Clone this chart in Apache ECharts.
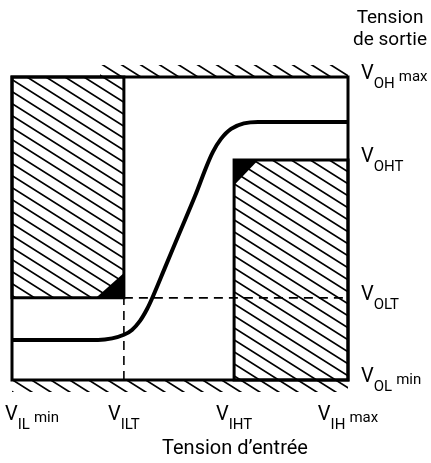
<!DOCTYPE html>
<html>
<head>
<meta charset="utf-8">
<style>
  html, body { margin: 0; padding: 0; background: #fff; }
  #chart { width: 431px; height: 463px; }
</style>
<script src="https://cdn.jsdelivr.net/npm/echarts@6/dist/echarts.min.js"></script>
</head>
<body>
<div id="chart"></div>
<script>
// Input / output voltage levels (arbitrary units, 0..10)
const inputTicks = [0, 3.33, 6.61, 10];               // VIL min, VILT, VIHT, VIH max
const inputSubs = ['IL', 'ILT', 'IHT', 'IH'];
const inputSups = ['min', '', '', 'max'];

const outputTicks = [0, 2.71, 7.26, 10];              // VOL min, VOLT, VOHT, VOH max
const outputSubs = ['OL', 'OLT', 'OHT', 'OH'];
const outputSups = ['min', '', '', 'max'];

// Transfer characteristic Vout = f(Vin)
const transferX = [0, 2.56, 2.98, 3.33, 3.57, 3.81, 4.02, 4.20, 4.55, 5.0, 5.45, 5.77, 5.98, 6.22, 6.52, 6.90, 7.32, 10];
const transferY = [1.32, 1.32, 1.37, 1.49, 1.65, 1.95, 2.34, 2.77, 3.70, 4.89, 6.08, 7.0, 7.53, 7.96, 8.29, 8.47, 8.52, 8.52];

// Forbidden zones [x0, x1, y0, y1]
const forbiddenZones = [
  [0, 3.33, 2.71, 10],      // input low, output high
  [6.61, 10, 0, 7.26]       // input high, output low
];
// Limit strips beyond the supply rails
const railStrips = [
  [2.62, 10, 10, 10.4],
  [0, 10, -0.4, 0]
];
// Outline boxes
const outlines = [
  [0, 10, 0, 10],
  [0, 3.33, 2.71, 10],
  [6.61, 10, 0, 7.26]
];
// Solid corners of the forbidden zones (polygons)
const corners = [
  [[3.33, 2.71], [2.5, 2.71], [3.33, 3.53]],
  [[6.61, 7.26], [7.33, 7.26], [6.61, 6.43]]
];
// Threshold guides
const guideH = [[3.33, 2.71], [10, 2.71]];
const guideV = [[3.33, 0], [3.33, 2.71]];

const FONT = 'Roboto, "DejaVu Sans", sans-serif';

function hatchPattern() {
  const c = document.createElement('canvas');
  c.width = 19; c.height = 12;
  const g = c.getContext('2d');
  g.strokeStyle = '#000';
  g.lineWidth = 1.7;
  g.beginPath();
  [-12, 0, 12].forEach(k => {
    g.moveTo(-19, -12 + k);
    g.lineTo(38, 24 + k);
  });
  g.stroke();
  return { image: c, repeat: 'repeat' };
}
const hatch = hatchPattern();

function nearest(arr, v) {
  let best = 0;
  arr.forEach((a, i) => { if (Math.abs(a - v) < Math.abs(arr[best] - v)) best = i; });
  return best;
}

const rich = {
  v:  { fontFamily: FONT, fontSize: 20, lineHeight: 20, padding: [10, 0, 10, 0], verticalAlign: 'top', color: '#000' },
  v0: { fontFamily: FONT, fontSize: 20, lineHeight: 20, padding: [10, 0, 10, 40], verticalAlign: 'top', color: '#000' },
  s:  { fontFamily: FONT, fontSize: 15, lineHeight: 16, padding: [23, 0, 0, 0], verticalAlign: 'top', color: '#000' },
  m:  { fontFamily: FONT, fontSize: 15, lineHeight: 16, padding: [16, 0, 0, 4], verticalAlign: 'top', color: '#000' }
};

function levelLabel(ticks, subs, sups, v, firstPad) {
  const i = nearest(ticks, v);
  const vTag = (firstPad && i === 0) ? 'v0' : 'v';
  return '{' + vTag + '|V}{s|' + subs[i] + '}' + (sups[i] ? '{m|' + sups[i] + '}' : '');
}

const chart = echarts.init(document.getElementById('chart'));

chart.setOption({
  animation: false,
  backgroundColor: '#fff',
  title: [
    {
      text: 'Tension\nde sortie',
      left: 385, top: 2, textAlign: 'center',
      textStyle: { fontFamily: FONT, fontSize: 19, lineHeight: 22, fontWeight: 'normal', color: '#000' }
    },
    {
      text: 'Tension d’entrée',
      left: 230, top: 434, textAlign: 'center',
      textStyle: { fontFamily: FONT, fontSize: 20, fontWeight: 'normal', color: '#000' }
    }
  ],
  grid: { left: 12, right: 83, top: 65, bottom: 71, containLabel: false, outerBoundsMode: 'none' },
  xAxis: {
    type: 'value', min: 0, max: 10,
    axisLine: { show: false }, axisTick: { show: false }, splitLine: { show: false },
    axisLabel: {
      customValues: inputTicks,
      margin: 3,
      formatter: v => levelLabel(inputTicks, inputSubs, inputSups, v, true),
      rich: rich
    }
  },
  yAxis: {
    type: 'value', min: -0.4, max: 10.4, position: 'right',
    axisLine: { show: false }, axisTick: { show: false }, splitLine: { show: false },
    axisLabel: {
      customValues: outputTicks,
      margin: 13,
      padding: [0, 0, 26, 0],
      formatter: v => levelLabel(outputTicks, outputSubs, outputSups, v, false),
      rich: rich
    }
  },
  series: [
    {
      type: 'custom', name: 'hatch', silent: true,
      data: forbiddenZones.concat(railStrips),
      renderItem: (params, api) => {
        const p0 = api.coord([api.value(0), api.value(3)]);
        const p1 = api.coord([api.value(1), api.value(2)]);
        return {
          type: 'rect',
          shape: { x: p0[0], y: p0[1], width: p1[0] - p0[0], height: p1[1] - p0[1] },
          style: { fill: hatch, stroke: null }
        };
      },
      clip: false, z: 1
    },
    {
      type: 'custom', name: 'corners', silent: true,
      data: corners.map((c, i) => [i]),
      renderItem: (params, api) => {
        const pts = corners[api.value(0)].map(p => api.coord(p));
        return { type: 'polygon', shape: { points: pts }, style: { fill: '#000' } };
      },
      z: 2
    },
    {
      type: 'line', name: 'VOLT', data: guideH, symbol: 'none', silent: true,
      lineStyle: { color: '#000', width: 1.6, type: [9, 6] }, z: 3
    },
    {
      type: 'line', name: 'VILT', data: guideV, symbol: 'none', silent: true,
      lineStyle: { color: '#000', width: 1.6, type: [9, 6] }, z: 3
    },
    {
      type: 'custom', name: 'outline', silent: true,
      data: outlines,
      renderItem: (params, api) => {
        const p0 = api.coord([api.value(0), api.value(3)]);
        const p1 = api.coord([api.value(1), api.value(2)]);
        return {
          type: 'rect',
          shape: { x: p0[0], y: p0[1], width: p1[0] - p0[0], height: p1[1] - p0[1] },
          style: { fill: null, stroke: '#000', lineWidth: 3 }
        };
      },
      clip: false, z: 4
    },
    {
      type: 'line', name: 'Vout', silent: true,
      data: transferX.map((x, i) => [x, transferY[i]]),
      symbol: 'none', smooth: 0.3,
      lineStyle: { color: '#000', width: 4, cap: 'butt' }, z: 5
    }
  ]
});
</script>
</body>
</html>
